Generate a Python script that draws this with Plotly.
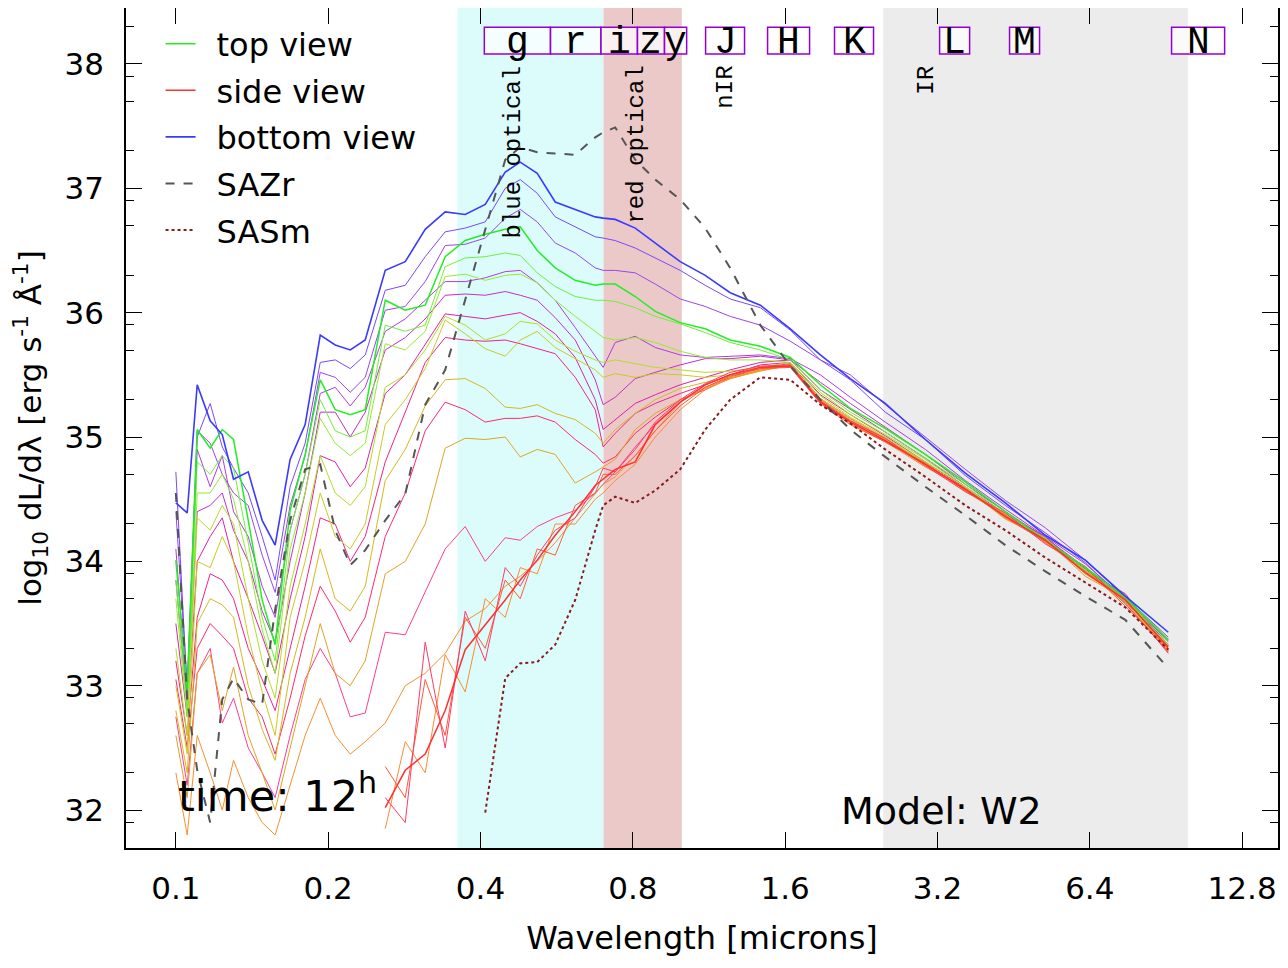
import math

import plotly.graph_objects as go

# wavelength grid of the model spectra (microns)
WAVELENGTH = [
    0.100, 0.1053, 0.1102, 0.1169, 0.1235, 0.1300, 0.1390, 0.1481, 0.1571, 0.1682,
    0.1801, 0.1929, 0.2065, 0.2211, 0.2367, 0.2593, 0.2840, 0.3110, 0.3406, 0.3731,
    0.4087, 0.4476, 0.4793, 0.5178, 0.5620, 0.6155, 0.6742, 0.6990, 0.7384, 0.8088,
    0.8859, 0.9925, 1.112, 1.246, 1.429, 1.638, 1.878, 2.152, 2.523, 3.028,
    3.632, 4.358, 5.227, 6.270, 7.522, 9.147,
]

# log10 dL/dlambda for the viewing angles, bottom view -> side
BOTTOM_VIEW = [
    34.47, 34.39, 35.42, 35.13, 35.02, 34.66, 34.72, 34.33, 34.13, 34.82, 35.10, 35.82, 35.74, 35.70, 35.78, 36.34, 36.41, 36.67,
    36.81, 36.79, 36.87, 37.13, 37.21, 37.12, 36.89, 36.83, 36.77, 36.76, 36.75, 36.68, 36.56,
    36.41, 36.30, 36.16, 36.06, 35.87, 35.66, 35.47, 35.27, 34.98, 34.71, 34.47, 34.21, 34.01, 33.72, 33.43,
]
BOTTOM_1 = [
    34.72, 32.95, 35.00, 35.27, 34.92, 34.75, 34.55, 34.20, 33.85, 34.60, 34.95, 35.60, 35.62, 35.55, 35.66, 36.18, 36.22, 36.45,
    36.65, 36.68, 36.73, 37.00, 37.07, 36.96, 36.77, 36.69, 36.61, 36.60, 36.58, 36.52, 36.44,
    36.34, 36.22, 36.11, 36.04, 35.86, 35.62, 35.46, 35.20, 34.98, 34.69, 34.45, 34.23, 33.99, 33.67, 33.37,
]
BOTTOM_2 = [
    34.40, 33.00, 35.05, 34.95, 34.70, 34.55, 34.45, 34.05, 33.75, 34.45, 34.85, 35.52, 35.48, 35.36, 35.48, 36.02, 36.05, 36.25,
    36.54, 36.55, 36.60, 36.76, 36.83, 36.73, 36.56, 36.48, 36.36, 36.34, 36.34, 36.32, 36.23,
    36.11, 36.05, 35.97, 35.90, 35.77, 35.62, 35.50, 35.26, 35.00, 34.74, 34.49, 34.27, 34.01, 33.71, 33.39,
]
BOTTOM_3 = [
    34.10, 32.90, 34.90, 34.60, 34.85, 34.40, 34.20, 33.80, 33.55, 34.25, 34.70, 35.35, 35.40, 35.25, 35.40, 35.85, 35.95, 36.10,
    36.25, 36.25, 36.28, 36.33, 36.34, 36.24, 36.10, 35.88, 35.65, 35.56, 35.76, 35.81, 35.72,
    35.66, 35.64, 35.65, 35.66, 35.63, 35.50, 35.32, 35.12, 34.90, 34.65, 34.42, 34.20, 33.98, 33.70, 33.36,
]
BOTTOM_4 = [
    33.85, 32.85, 34.40, 34.45, 34.55, 34.25, 34.00, 33.60, 33.35, 34.00, 34.55, 35.20, 35.20, 35.00, 35.20, 35.70, 35.80, 35.95,
    36.14, 36.15, 36.14, 36.17, 36.14, 36.10, 35.96, 35.78, 35.46, 35.26, 35.32, 35.47, 35.52,
    35.58, 35.63, 35.63, 35.65, 35.62, 35.44, 35.27, 35.08, 34.86, 34.62, 34.40, 34.19, 33.95, 33.72, 33.33,
]
BOTTOM_5 = [
    33.50, 32.75, 34.00, 34.20, 34.35, 34.00, 33.70, 33.40, 33.10, 33.70, 34.20, 34.85, 34.80, 34.60, 34.75, 35.35, 35.50, 35.75,
    35.99, 35.97, 35.95, 35.98, 36.00, 35.93, 35.83, 35.64, 35.30, 35.06, 35.14, 35.27, 35.34,
    35.42, 35.48, 35.54, 35.60, 35.62, 35.38, 35.22, 35.04, 34.83, 34.60, 34.38, 34.20, 33.92, 33.74, 33.30,
]
BOTTOM_6 = [
    33.20, 32.60, 33.55, 33.90, 33.85, 33.70, 33.30, 33.05, 32.80, 33.30, 33.80, 34.35, 34.30, 34.00, 34.20, 34.80, 35.20, 35.60,
    35.80, 35.78, 35.77, 35.78, 35.75, 35.71, 35.67, 35.48, 35.22, 34.92, 35.03, 35.19, 35.27,
    35.35, 35.42, 35.50, 35.58, 35.60, 35.34, 35.18, 35.01, 34.80, 34.59, 34.37, 34.17, 33.94, 33.69, 33.32,
]
BOTTOM_7 = [
    33.05, 32.50, 33.30, 33.50, 33.40, 33.30, 32.90, 32.75, 32.45, 32.90, 33.40, 33.80, 33.60, 33.35, 33.55, 34.20, 34.55, 35.05,
    35.28, 35.22, 35.12, 35.15, 35.15, 35.17, 35.12, 34.98, 34.86, 34.79, 34.84, 35.03, 35.16,
    35.30, 35.38, 35.48, 35.56, 35.59, 35.31, 35.15, 34.99, 34.79, 34.57, 34.36, 34.18, 33.90, 33.72, 33.28,
]
BOTTOM_8 = [
    32.75, 32.20, 33.10, 33.30, 32.70, 32.90, 32.50, 32.30, 32.10, 32.60, 33.05, 33.30, 33.10, 32.75, 32.78, 33.43, 33.41, 33.75,
    34.10, 34.28, 34.00, 34.19, 34.17, 34.28, 34.35, 34.41, 34.55, 34.62, 34.72, 34.92, 35.10,
    35.28, 35.40, 35.48, 35.55, 35.58, 35.29, 35.13, 34.98, 34.78, 34.58, 34.35, 34.16, 33.93, 33.68, 33.26,
]

# top view -> side
TOP_VIEW = [
    34.01, 32.97, 35.06, 34.91, 35.06, 34.98, 34.33, 33.69, 33.33, 34.41, 34.86, 35.46, 35.22, 35.18, 35.22, 36.10, 36.02, 36.06,
    36.45, 36.58, 36.63, 36.67, 36.69, 36.50, 36.36, 36.26, 36.22, 36.23, 36.23, 36.13, 36.01,
    35.92, 35.87, 35.78, 35.73, 35.64, 35.42, 35.23, 35.07, 34.86, 34.64, 34.40, 34.17, 33.95, 33.71, 33.37,
]
TOP_1 = [
    33.85, 32.80, 34.80, 34.70, 34.85, 34.75, 34.15, 33.55, 33.20, 34.25, 34.70, 35.30, 35.05, 35.00, 35.05, 35.90, 35.85, 35.90,
    36.37, 36.44, 36.45, 36.48, 36.46, 36.32, 36.21, 36.13, 36.10, 36.10, 36.09, 36.04, 35.97,
    35.91, 35.84, 35.76, 35.70, 35.62, 35.38, 35.20, 35.04, 34.83, 34.62, 34.38, 34.18, 33.93, 33.70, 33.35,
]
TOP_2 = [
    33.70, 32.75, 34.55, 34.55, 34.70, 34.50, 34.00, 33.45, 33.10, 34.10, 34.55, 35.15, 34.95, 34.85, 34.95, 35.75, 35.70, 35.85,
    36.29, 36.31, 36.26, 36.30, 36.31, 36.24, 36.10, 35.97, 35.85, 35.80, 35.78, 35.80, 35.76,
    35.69, 35.64, 35.62, 35.62, 35.60, 35.36, 35.18, 35.02, 34.82, 34.60, 34.37, 34.15, 33.92, 33.68, 33.33,
]
TOP_3 = [
    33.30, 32.60, 34.35, 34.25, 34.45, 34.30, 33.70, 33.20, 32.90, 33.80, 34.30, 34.85, 34.55, 34.45, 34.60, 35.40, 35.50, 35.70,
    35.97, 35.90, 35.78, 35.83, 35.93, 35.91, 35.78, 35.69, 35.62, 35.60, 35.62, 35.59, 35.56,
    35.54, 35.52, 35.53, 35.56, 35.60, 35.33, 35.16, 35.00, 34.80, 34.60, 34.36, 34.18, 33.90, 33.70, 33.32,
]
TOP_4 = [
    33.00, 32.45, 34.00, 33.95, 34.20, 34.00, 33.40, 32.95, 32.60, 33.55, 34.00, 34.55, 34.20, 34.10, 34.30, 35.10, 35.30, 35.55,
    35.94, 35.83, 35.71, 35.65, 35.78, 35.85, 35.72, 35.63, 35.54, 35.48, 35.51, 35.48, 35.51,
    35.50, 35.48, 35.50, 35.54, 35.58, 35.31, 35.15, 34.99, 34.79, 34.57, 34.37, 34.16, 33.92, 33.67, 33.30,
]
TOP_5 = [
    32.80, 32.30, 33.50, 33.70, 33.65, 33.55, 33.00, 32.65, 32.40, 33.10, 33.55, 34.10, 33.70, 33.60, 33.80, 34.65, 34.90, 35.25,
    35.46, 35.47, 35.39, 35.24, 35.23, 35.26, 35.19, 35.14, 35.03, 34.95, 35.06, 35.19, 35.30,
    35.39, 35.44, 35.48, 35.53, 35.58, 35.30, 35.13, 34.98, 34.77, 34.58, 34.35, 34.19, 33.90, 33.69, 33.28,
]
TOP_6 = [
    32.60, 32.10, 33.10, 33.25, 32.80, 33.15, 32.60, 32.30, 32.00, 32.50, 33.00, 33.50, 33.10, 33.00, 33.20, 33.90, 34.00, 34.30,
    34.91, 34.99, 34.98, 35.00, 34.84, 34.90, 34.86, 34.63, 34.72, 34.76, 34.82, 35.06, 35.19,
    35.30, 35.39, 35.47, 35.53, 35.58, 35.29, 35.12, 34.97, 34.79, 34.56, 34.37, 34.15, 33.93, 33.66, 33.30,
]
TOP_7 = [
    32.30, 31.80, 32.60, 32.30, 32.00, 32.40, 32.10, 31.90, 31.80, 32.20, 32.60, 32.90, 32.60, 32.45, 32.55, 32.70, 33.00, 33.10,
    33.26, 33.52, 33.62, 33.80, 33.88, 34.00, 34.15, 34.35, 34.55, 34.62, 34.68, 34.85, 35.05,
    35.28, 35.40, 35.47, 35.54, 35.58, 35.28, 35.11, 34.96, 34.76, 34.59, 34.34, 34.18, 33.88, 33.70, 33.27,
]

# side view and the neighbouring near-edge-on angles
SIDE_VIEW = [None] * 15 + [
    32.02, 32.32, 32.45, 32.80, 33.29, 33.49, 33.69, 33.85, 34.01, 34.21, 34.40, 34.61, 34.66, 34.74, 34.80, 35.10,
    35.28, 35.42, 35.50, 35.56, 35.57, 35.28, 35.12, 34.97, 34.78, 34.58, 34.36, 34.17, 33.91, 33.69, 33.31,
]
SIDE_1 = [None] * 15 + [
    32.35, 32.10, 33.05, 32.60, 33.55, 33.30, 33.85, 33.70, 34.10, 34.05, 34.45, 34.55, 34.70, 34.70, 34.85, 35.05,
    35.25, 35.40, 35.49, 35.55, 35.56, 35.27, 35.10, 34.96, 34.79, 34.57, 34.37, 34.16, 33.95, 33.64, 33.30,
]
SIDE_2 = [None] * 15 + [
    31.85, 32.55, 32.30, 33.25, 32.95, 33.70, 33.55, 33.95, 33.90, 34.30, 34.30, 34.50, 34.55, 34.65, 34.78, 35.00,
    35.22, 35.38, 35.47, 35.54, 35.57, 35.30, 35.14, 34.98, 34.76, 34.58, 34.38, 34.15, 33.92, 33.70, 33.29,
]
SIDE_3 = [None] * 15 + [
    32.10, 31.90, 33.35, 32.50, 33.60, 33.20, 33.95, 33.80, 34.05, 34.25, 34.35, 34.60, 34.75, 34.72, 34.90, 35.12,
    35.30, 35.43, 35.52, 35.57, 35.58, 35.29, 35.13, 34.99, 34.77, 34.56, 34.39, 34.14, 33.96, 33.66, 33.27,
]

# reference supernova spectra
SAZR = [
    34.55, 32.89, 32.32, 31.90, 32.89, 33.06, 32.89, 32.85, 33.61, 34.33, 34.74, 34.78, 34.25, 33.97, 34.09, 34.33, 34.54, 35.26,
    35.54, 36.10, 36.67, 37.23, 37.33, 37.29, 37.28, 37.27, 37.41, 37.45, 37.49, 37.23, 37.07,
    36.91, 36.68, 36.36, 35.90, 35.57, 35.30, 35.06, 34.84, 34.60, 34.37, 34.13, 33.92, 33.72, 33.53, 33.14,
]
SASM = [None] * 20 + [
    31.98, 33.06, 33.18, 33.19, 33.33, 33.69, 34.25, 34.45, 34.52, 34.47, 34.57,
    34.74, 35.06, 35.30, 35.48, 35.46, 35.26, 35.11, 34.90, 34.68, 34.45, 34.25, 34.03, 33.83, 33.63, 33.29,
]

# photometric filter bands (microns)
FILTER_NAMES = ["g", "r", "i", "z", "y", "J", "H", "K", "L", "M", "N"]
FILTER_LO = [0.407, 0.550, 0.692, 0.817, 0.924, 1.114, 1.477, 2.003, 3.231, 4.442, 9.285]
FILTER_HI = [0.550, 0.692, 0.817, 0.924, 1.022, 1.330, 1.788, 2.392, 3.704, 5.092, 11.82]

# shaded wavelength regions
REGION_NAMES = ["blue optical", "red optical", "nIR", "IR"]
REGION_LO = [0.36, 0.70, 1.0, 2.5]
REGION_HI = [0.70, 1.0, 2.5, 10.0]
REGION_LABEL_X = [0.464, 0.814, 1.218, 3.04]

X_TICKS = [0.1, 0.2, 0.4, 0.8, 1.6, 3.2, 6.4, 12.8]
X_TICK_TEXT = ["0.1", "0.2", "0.4", "0.8", "1.6", "3.2", "6.4", "12.8"]
Y_TICKS = [32, 33, 34, 35, 36, 37, 38]

MONO = "Liberation Mono, Courier New, monospace"
SANS = "DejaVu Sans, Verdana, sans-serif"
GAP = "\u2002"  # space between legend sample and label

spectra = [
    # (values, colour, width, legend name)
    (BOTTOM_8, "#ff3d8e", 1, None),
    (BOTTOM_7, "#ff2a6a", 1, None),
    (BOTTOM_6, "#f0228c", 1, None),
    (BOTTOM_5, "#dd22a8", 1, None),
    (BOTTOM_4, "#c82ccc", 1, None),
    (BOTTOM_3, "#b03ce0", 1, None),
    (BOTTOM_2, "#9a46ee", 1, None),
    (BOTTOM_1, "#7a48ff", 1, None),
    (TOP_7, "#f59030", 1, None),
    (TOP_6, "#e0a424", 1, None),
    (TOP_5, "#d4b822", 1, None),
    (TOP_4, "#c8cc22", 1, None),
    (TOP_3, "#b2de26", 1, None),
    (TOP_2, "#96ea32", 1, None),
    (TOP_1, "#6cf03a", 1, None),
    (SIDE_2, "#ff8a30", 1, None),
    (SIDE_1, "#ff5a36", 1, None),
    (SIDE_3, "#ff3a66", 1, None),
    (TOP_VIEW, "#22ee22", 1.5, "top view"),
    (SIDE_VIEW, "#ff3030", 1.5, "side view"),
    (BOTTOM_VIEW, "#3a3aff", 1.6, "bottom view"),
]

legend_rank = {"top view": 1, "side view": 2, "bottom view": 3}

fig = go.Figure()

for values, colour, width, name in spectra:
    fig.add_trace(go.Scatter(
        x=WAVELENGTH, y=values, mode="lines",
        line=dict(color=colour, width=width),
        name=GAP + name if name else "spectrum", showlegend=name is not None,
        legendgroup=name or None, legendrank=legend_rank.get(name, 1000),
        hoverinfo="skip",
    ))

fig.add_trace(go.Scatter(
    x=WAVELENGTH, y=SAZR, mode="lines", name=GAP + "SAZr",
    line=dict(color="#555555", width=2, dash="dash"),
    legendgroup="SAZr", legendrank=4,
))
fig.add_trace(go.Scatter(
    x=WAVELENGTH, y=SASM, mode="lines", name=GAP + "SASm",
    line=dict(color="#8b1a1a", width=2, dash="dot"),
    legendgroup="SASm", legendrank=5,
))

# shaded regions (shapes on a log axis take raw data values)
region_fill = ["#dcfcfc", "#ecc9c9", None, "#ececec"]
for lo, hi, fill in zip(REGION_LO, REGION_HI, region_fill):
    if fill:
        fig.add_shape(type="rect", xref="x", yref="paper", x0=lo, x1=hi, y0=0, y1=1,
                      fillcolor=fill, line_width=0, layer="below")

for name, xpos in zip(REGION_NAMES, REGION_LABEL_X):
    fig.add_annotation(
        x=math.log10(xpos), y=38.0, text=name, textangle=-90, showarrow=False,
        xanchor="center", yanchor="top", font=dict(family=MONO, size=24, color="black"),
    )

for name, lo, hi in zip(FILTER_NAMES, FILTER_LO, FILTER_HI):
    fig.add_shape(type="rect", xref="x", yref="y", x0=lo, x1=hi, y0=38.08, y1=38.295,
                  line=dict(color="#9400d3", width=1.5), fillcolor="rgba(255,255,255,0.72)",
                  layer="above")
    fig.add_annotation(
        x=math.log10(math.sqrt(lo * hi)), y=38.175, text=name, showarrow=False,
        xanchor="center", yanchor="middle", font=dict(family=MONO, size=38, color="black"),
    )

fig.add_annotation(
    xref="paper", x=0.0434, y=32.14, text="time: 12<sup>h</sup>", showarrow=False,
    xanchor="left", yanchor="middle", font=dict(family=SANS, size=43, color="black"),
)
fig.add_annotation(
    xref="paper", x=0.619, y=31.99, text="Model: W2", showarrow=False,
    xanchor="left", yanchor="middle", font=dict(family=SANS, size=38, color="black"),
)

minor_y = [n + math.log10(m) for n in range(31, 39) for m in (2, 5, 8)]

# the page adds an 8 px body margin, so the figure is drawn 8 px smaller
fig.update_layout(
    width=1280, height=960,
    margin=dict(l=118, r=10, t=0, b=120),
    paper_bgcolor="white", plot_bgcolor="white",
    font=dict(family=SANS, size=31, color="black"),
    legend=dict(
        x=0.030, y=0.99, xanchor="left", yanchor="top",
        bgcolor="rgba(0,0,0,0)", font=dict(size=32),
        itemwidth=30, traceorder="grouped", tracegroupgap=2,
    ),
)
fig.update_xaxes(
    type="log", range=[math.log10(0.0797), math.log10(15.07)],
    tickvals=X_TICKS, ticktext=X_TICK_TEXT,
    ticks="inside", ticklen=16, tickcolor="black", tickwidth=1,
    showline=True, linecolor="black", linewidth=1.5, mirror="ticks",
    showgrid=False, zeroline=False, ticklabelstandoff=12, automargin=False,
    title=dict(text="Wavelength [microns]", standoff=22, font=dict(size=32)),
)
fig.update_yaxes(
    range=[31.695, 38.45], tickvals=Y_TICKS,
    ticks="inside", ticklen=16, tickcolor="black", tickwidth=1,
    minor=dict(tickvals=minor_y, ticks="inside", ticklen=8, tickcolor="black"),
    showline=True, linecolor="black", linewidth=1.5, mirror="ticks",
    showgrid=False, zeroline=False, ticklabelstandoff=14, automargin=False,
    title=dict(text="log<sub>10</sub> dL/dλ [erg s<sup>-1</sup> Å<sup>-1</sup>]",
               standoff=18, font=dict(size=31)),
)

fig.write_html("out.html")
